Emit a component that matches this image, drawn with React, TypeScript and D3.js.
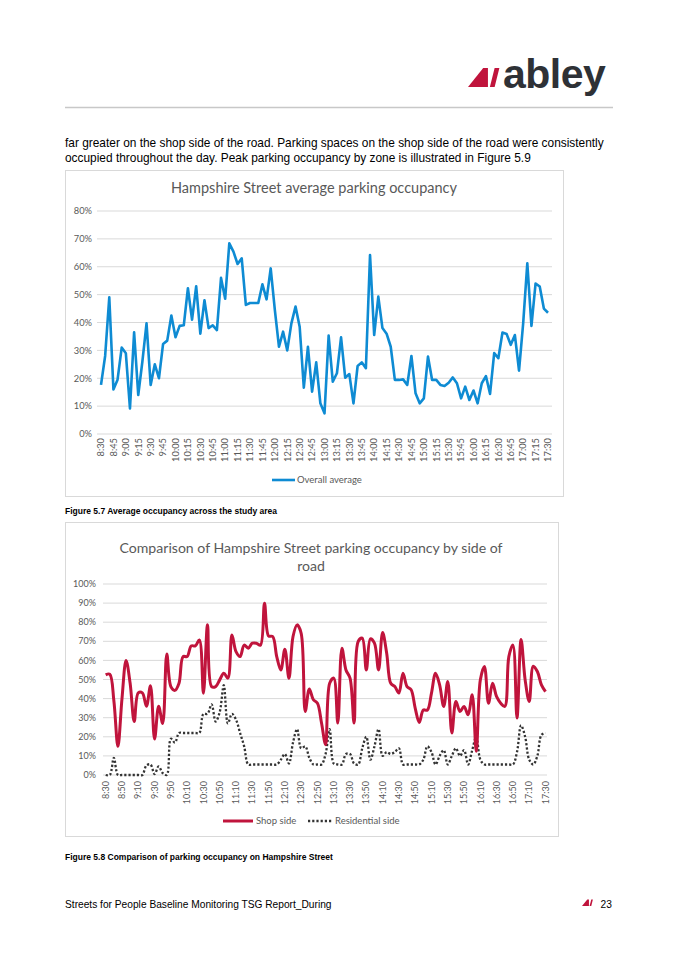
import * as d3 from 'd3'

// 5-minute survey slots, 8:30 to 17:30
const slots = d3.range(8 * 60 + 30, 17 * 60 + 31, 5).map(m => `${Math.floor(m / 60)}:${String(m % 60).padStart(2, '0')}`)

const ticks15 = ['8:30', '8:45', '9:00', '9:15', '9:30', '9:45', '10:00', '10:15', '10:30', '10:45', '11:00', '11:15', '11:30', '11:45', '12:00', '12:15', '12:30', '12:45', '13:00', '13:15', '13:30', '13:45', '14:00', '14:15', '14:30', '14:45', '15:00', '15:15', '15:30', '15:45', '16:00', '16:15', '16:30', '16:45', '17:00', '17:15', '17:30']
const ticks20 = ['8:30', '8:50', '9:10', '9:30', '9:50', '10:10', '10:30', '10:50', '11:10', '11:30', '11:50', '12:10', '12:30', '12:50', '13:10', '13:30', '13:50', '14:10', '14:30', '14:50', '15:10', '15:30', '15:50', '16:10', '16:30', '16:50', '17:10', '17:30']

// Figure 5.7 - overall average occupancy (%)
const overallAverage = [
  17.6, 28, 49, 16, 19.5, 31, 29, 9.2, 36.5, 14, 26, 39.7, 17.6, 25, 20, 32.3, 33.5, 42.5, 34.7, 38.8,
  39, 52.3, 41, 53, 36, 48, 38, 39, 37.3, 56, 48.5, 68.4, 65.4, 61, 63, 46.3, 47, 47, 47,
  53.7, 48.3, 59.4, 44.5, 31.3, 36.7, 30, 39.7, 45.7, 38.5, 16.6, 31.3, 15.2, 25.7, 11, 7.4, 35.3, 18.8, 21.8, 34.7,
  20.2, 21.5, 11, 24.4, 25.7, 23.6, 64.2, 35.5, 49.3, 38, 36, 31.3, 19.4, 19.4, 19.6, 17.6, 28, 14.6, 11,
  12.8, 27.8, 19.4, 19.4, 17.6, 17.2, 18.4, 20.3, 18.2, 12.8, 17, 12.2, 15.6, 11, 18.2, 20.8, 14.4, 29, 27.2, 36.4,
  35.9, 32, 35.5, 22.7, 39.7, 61.2, 38.8, 54, 52.9, 45, 43.5
]

// Figure 5.8 - occupancy by side of road (%)
const shopSide = [
  52.4, 52.8, 39, 15, 40, 60, 48, 28, 43, 43, 36, 46.7, 18.8, 36, 27, 63.4, 46.3, 44.3, 48, 62,
  62, 67.6, 67.6, 70.7, 42.8, 78.6, 46.3, 46.3, 49.8, 53.3, 50.7, 73.3, 64.6, 62, 68, 66.4, 69, 69, 68,
  89.9, 72.8, 72.5, 62, 55, 65.9, 50.7, 72.5, 78.6, 74.2, 33.3, 45, 39.4, 37.6, 27.2, 15.9, 48, 50.7, 27.2, 66.4,
  55, 50.7, 27.2, 69.9, 71.6, 55, 71.3, 69, 55, 74.6, 63.8, 48, 46.3, 42.9, 53.3, 46.3, 44.6, 35, 27.5,
  34, 34, 42.9, 53.3, 47.2, 35.9, 49, 22, 38.5, 33.3, 35.9, 31.5, 42, 12.4, 49.8, 56.8, 37.6, 48, 41, 37.6,
  35.9, 62, 68, 29.8, 71, 49.8, 38.5, 57, 54.2, 47.2, 43.7
]
const residentialSide = [
  0, 0, 9, 0, 0, 0, 0, 0, 0, 0, 5, 5.5, 0.5, 4.5, 1, 0, 19, 17, 22, 22,
  22, 22, 22, 22, 32, 32, 37, 28, 33, 47, 27, 32, 29, 22, 15, 5.5, 5.5, 5.5, 5.5,
  5.5, 5.5, 5.5, 5.5, 8, 11, 6, 17, 24, 14, 15, 9, 5.5, 5.5, 5.5, 11, 24, 6, 5.5, 5.5,
  11, 11, 6, 5.5, 14, 20, 8, 15, 24, 10, 12, 11, 12, 14, 5.5, 5.5, 5.5, 5.5, 5.5,
  8, 15, 12, 5.5, 10, 13, 5.5, 10, 14, 10, 13, 5.5, 13, 20, 8, 5.5, 5.5, 5.5, 5.5, 5.5,
  5.5, 5.5, 5.5, 12, 26, 20, 8, 5.5, 10, 21, 22
]

const yTicks1 = [0, 10, 20, 30, 40, 50, 60, 70, 80]
const yTicks2 = [0, 10, 20, 30, 40, 50, 60, 70, 80, 90, 100]

const CHART_FONT = 'Lato, Carlito, Calibri, sans-serif'
const DOC_FONT = '"Liberation Sans", Arial, sans-serif'
const AXIS_GREY = '#595959'
const GRID = '#d9d9d9'

function Chart1() {
  const x = d3.scalePoint<string>().domain(slots).range([101, 548])
  const y = d3.scaleLinear().domain([0, 80]).range([434, 211])
  const line = d3.line<number>().x((_, i) => x(slots[i])!).y(d => y(d))

  return (
    <g>
      <rect x={65.5} y={170.5} width={498} height={326} fill="#fff" stroke={GRID} />
      <text x={314} y={193} textAnchor="middle" fontFamily={CHART_FONT} fontSize={14.5} fill={AXIS_GREY}>
        Hampshire Street average parking occupancy
      </text>
      {yTicks1.map(t => (
        <g key={t}>
          <line x1={97} x2={552} y1={y(t)} y2={y(t)} stroke={GRID} strokeWidth={1} />
          <text x={92} y={y(t)} dy="0.35em" textAnchor="end" fontFamily={CHART_FONT} fontSize={9.3} fill={AXIS_GREY}>{t}%</text>
        </g>
      ))}
      {ticks15.map(t => (
        <text key={t} transform={`translate(${x(t)},438) rotate(-90)`} dy="0.35em" textAnchor="end"
          fontFamily={CHART_FONT} fontSize={9.3} fill={AXIS_GREY}>{t}</text>
      ))}
      <path d={line(overallAverage)!} fill="none" stroke="#0e8bd3" strokeWidth={2.6} strokeLinejoin="round" />
      <line x1={272} x2={295} y1={480} y2={480} stroke="#0e8bd3" strokeWidth={2.6} />
      <text x={297} y={480} dy="0.35em" fontFamily={CHART_FONT} fontSize={9.5} fill={AXIS_GREY}>Overall average</text>
    </g>
  )
}

function Chart2() {
  const x = d3.scalePoint<string>().domain(slots).range([105.7, 545.5])
  const y = d3.scaleLinear().domain([0, 100]).range([775, 584])
  const line = d3.line<number>().x((_, i) => x(slots[i])!).y(d => y(d)).curve(d3.curveCatmullRom.alpha(0.5))

  return (
    <g>
      <rect x={65.5} y={522.5} width={493} height={314} fill="#fff" stroke={GRID} />
      <text textAnchor="middle" fontFamily={CHART_FONT} fontSize={14.1} fill={AXIS_GREY}>
        <tspan x={311} y={553}>Comparison of Hampshire Street parking occupancy by side of</tspan>
        <tspan x={311} y={571}>road</tspan>
      </text>
      {yTicks2.map(t => (
        <g key={t}>
          <line x1={103} x2={547} y1={y(t)} y2={y(t)} stroke={GRID} strokeWidth={1} />
          <text x={96} y={y(t)} dy="0.35em" textAnchor="end" fontFamily={CHART_FONT} fontSize={9} fill={AXIS_GREY}>{t}%</text>
        </g>
      ))}
      {ticks20.map(t => (
        <text key={t} transform={`translate(${x(t)},781) rotate(-90)`} dy="0.35em" textAnchor="end"
          fontFamily={CHART_FONT} fontSize={9} fill={AXIS_GREY}>{t}</text>
      ))}
      <path d={line(residentialSide)!} fill="none" stroke="#333" strokeWidth={2.3} strokeDasharray="2.2 2" />
      <path d={line(shopSide)!} fill="none" stroke="#c0143c" strokeWidth={3} strokeLinejoin="round" />
      <line x1={223} x2={253} y1={821} y2={821} stroke="#c0143c" strokeWidth={3} />
      <text x={256} y={821} dy="0.35em" fontFamily={CHART_FONT} fontSize={9.5} fill={AXIS_GREY}>Shop side</text>
      <line x1={308} x2={332} y1={821} y2={821} stroke="#333" strokeWidth={2.3} strokeDasharray="2.2 2" />
      <text x={335} y={821} dy="0.35em" fontFamily={CHART_FONT} fontSize={9.5} fill={AXIS_GREY}>Residential side</text>
    </g>
  )
}

function AbleyMark({ x, y, s }: { x: number; y: number; s: number }) {
  // small red "AI" mark, drawn in a 33x20 box
  return (
    <g transform={`translate(${x},${y}) scale(${s})`} fill="#c0143c">
      <polygon points="0,20 16,0 21,0 21,20" />
      <polygon points="23,20 28,0 33,0 28,20" />
    </g>
  )
}

export default function App() {
  return (
    <svg width={675} height={955} style={{ position: 'absolute', left: 0, top: 0, background: '#fff' }}>
      <rect width={675} height={955} fill="#fff" />
      <AbleyMark x={468} y={68} s={0.95} />
      <text x={503} y={88} fontFamily={DOC_FONT} fontWeight="bold" fontSize={41} fill="#2e3136" letterSpacing={-0.5}>abley</text>
      <line x1={65} x2={613} y1={107.5} y2={107.5} stroke="#c8c8c8" strokeWidth={1.5} />

      <text fontFamily={DOC_FONT} fontSize={11.9} fill="#000">
        <tspan x={65} y={147}>far greater on the shop side of the road. Parking spaces on the shop side of the road were consistently</tspan>
        <tspan x={65} y={162}>occupied throughout the day. Peak parking occupancy by zone is illustrated in Figure 5.9</tspan>
      </text>

      <Chart1 />
      <text x={65} y={514} fontFamily={DOC_FONT} fontWeight="bold" fontSize={8.5} fill="#000">Figure 5.7 Average occupancy across the study area</text>

      <Chart2 />
      <text x={65} y={860} fontFamily={DOC_FONT} fontWeight="bold" fontSize={8.5} fill="#000">Figure 5.8 Comparison of parking occupancy on Hampshire Street</text>

      <text x={65} y={908} fontFamily={DOC_FONT} fontSize={10.2} fill="#000">Streets for People Baseline Monitoring TSG Report_During</text>
      <AbleyMark x={582} y={899.5} s={0.33} />
      <text x={600.5} y={908} fontFamily={DOC_FONT} fontSize={10.2} fill="#000">23</text>
    </svg>
  )
}
